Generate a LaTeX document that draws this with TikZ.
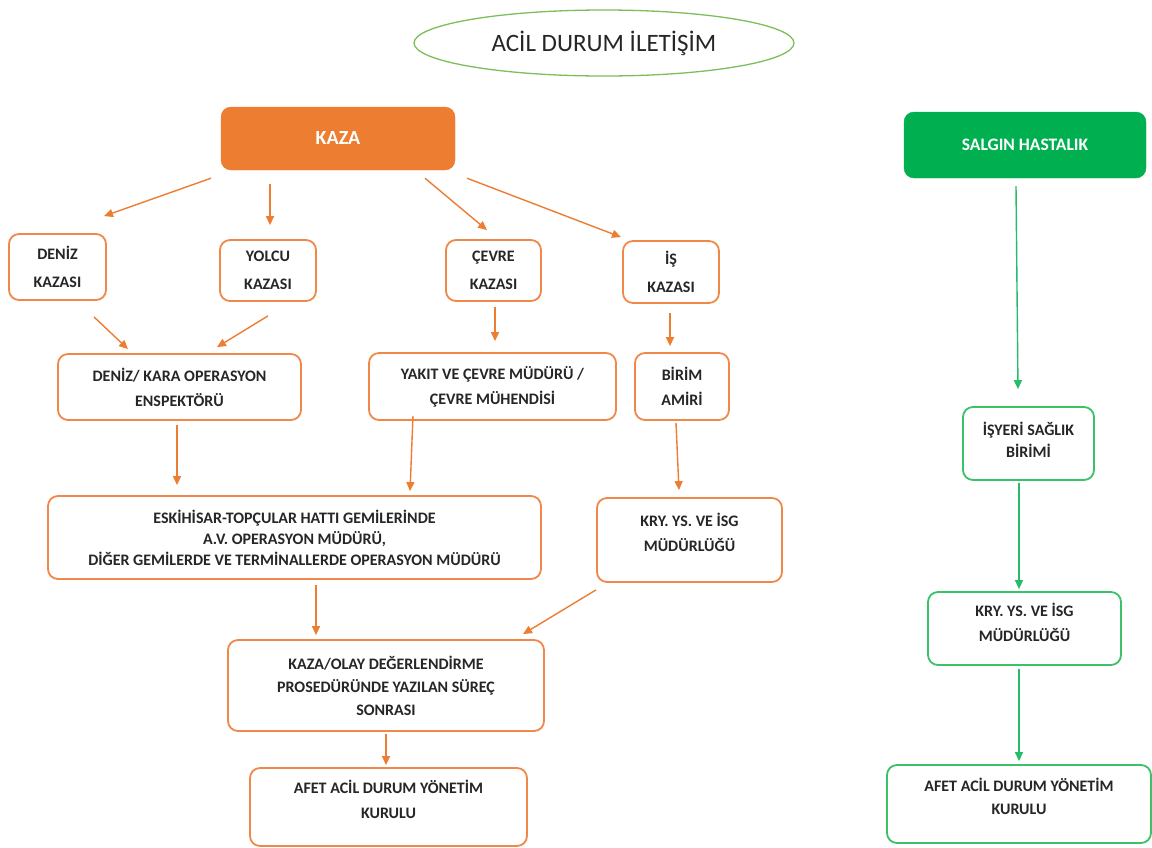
\documentclass[tikz,border=0pt]{standalone}
\usepackage{fontspec}
\setmainfont{Carlito}
\usetikzlibrary{arrows.meta,shapes.geometric}
\definecolor{korange}{HTML}{ED7D31}
\definecolor{kline}{HTML}{F0884A}
\definecolor{kgreen}{HTML}{00B050}
\definecolor{gline}{HTML}{3CC068}
\definecolor{eline}{HTML}{7DBE5A}
\tikzset{
  obox/.style={draw=kline, line width=1.8pt, rounded corners=10pt, fill=white, inner sep=0pt,
    align=center, text=black!85, font=\bfseries\fontsize{16}{25}\selectfont},
  gbox/.style={obox, draw=gline},
  tbox/.style={obox, font=\bfseries\fontsize{16}{28}\selectfont},
  oarr/.style={draw=korange, line width=1.4pt, -{Triangle[length=9pt,width=8pt]}},
  garr/.style={oarr, draw=kgreen!85!white},
}
\begin{document}
\begin{tikzpicture}[x=1pt,y=-1pt]
\path[fill=white,use as bounding box] (0,0) rectangle (1152,847);

% title
\node[draw=eline, line width=1.3pt, ellipse, minimum width=380pt, minimum height=66pt, inner sep=0pt,
  font=\fontsize{25}{28}\selectfont, text=black!85] (title) at (604,43) {ACİL DURUM İLETİŞİM};

% main headers
\node[draw=korange, fill=korange, rounded corners=10pt, minimum width=234pt, minimum height=63pt,
  inner sep=0pt, text=white, font=\bfseries\fontsize{20}{22}\selectfont] (kaza) at (338,138.5) {KAZA};
\node[draw=kgreen, fill=kgreen, rounded corners=10pt, minimum width=242pt, minimum height=66pt,
  inner sep=0pt, text=white, font=\bfseries\fontsize{17.5}{20}\selectfont] (salgin) at (1025,145) {SALGIN HASTALIK\\[6pt]};

% second level
\node[tbox, minimum width=97pt, minimum height=66pt] (deniz) at (57.5,267) {DENİZ\\KAZASI};
\node[tbox, minimum width=96pt, minimum height=61pt] (yolcu) at (268,270.5) {YOLCU\\KAZASI};
\node[tbox, minimum width=95pt, minimum height=61pt] (cevre) at (493.5,270.5) {ÇEVRE\\KAZASI};
\node[tbox, minimum width=96pt, minimum height=62pt] (is) at (671,272) {İŞ\\KAZASI};

% third level
\node[obox, minimum width=243pt, minimum height=66pt] (dk) at (179.5,387) {DENİZ/ KARA OPERASYON\\ENSPEKTÖRÜ};
\node[obox, minimum width=247pt, minimum height=67pt] (yakit) at (492.5,386.5) {YAKIT VE ÇEVRE MÜDÜRÜ /\\ÇEVRE MÜHENDİSİ};
\node[obox, minimum width=94pt, minimum height=67pt] (birim) at (682,386.5) {BİRİM\\AMİRİ};

% fourth level
\node[obox, minimum width=493pt, minimum height=83pt, font=\bfseries\fontsize{16}{21}\selectfont] (eski) at (294.5,537.5)
  {ESKİHİSAR-TOPÇULAR HATTI GEMİLERİNDE\\A.V. OPERASYON MÜDÜRÜ,\\DİĞER GEMİLERDE VE TERMİNALLERDE OPERASYON MÜDÜRÜ};
\node[obox, minimum width=185pt, minimum height=84pt] (kryo) at (689.5,540) {KRY. YS. VE İSG\\MÜDÜRLÜĞÜ\\[-10pt]};

% fifth level
\node[obox, minimum width=316pt, minimum height=91pt, font=\bfseries\fontsize{16}{23}\selectfont] (olay) at (386,685.5)
  {KAZA/OLAY DEĞERLENDİRME\\PROSEDÜRÜNDE YAZILAN SÜREÇ\\SONRASI};
\node[obox, minimum width=277pt, minimum height=78pt] (afeto) at (388.5,807) {AFET ACİL DURUM YÖNETİM\\KURULU\\[-10pt]};

% green branch
\node[gbox, minimum width=131pt, minimum height=73pt, font=\bfseries\fontsize{16}{22}\selectfont] (isyeri) at (1028.5,443.5) {İŞYERİ SAĞLIK\\BİRİMİ\\[-14pt]};
\node[gbox, minimum width=193pt, minimum height=73pt] (kryg) at (1024.5,628.5) {KRY. YS. VE İSG\\MÜDÜRLÜĞÜ\\[-12pt]};
\node[gbox, minimum width=264pt, minimum height=78pt, font=\bfseries\fontsize{16}{23}\selectfont] (afetg) at (1019,804) {AFET ACİL DURUM YÖNETİM\\KURULU\\[-8pt]};

% orange connectors
\draw[oarr] ([xshift=-127pt,yshift=-8pt]kaza.south) -- ([xshift=46.5pt,yshift=17pt]deniz.north);
\draw[oarr] ([xshift=-68pt,yshift=-14pt]kaza.south) -- ([xshift=2pt,yshift=14pt]yolcu.north);
\draw[oarr] ([xshift=87pt,yshift=-8pt]kaza.south) -- ([xshift=-6.5pt,yshift=9pt]cevre.north);
\draw[oarr] ([xshift=129pt,yshift=-8pt]kaza.south) -- ([xshift=-50pt,yshift=3pt]is.north);
\draw[oarr] ([xshift=36.5pt,yshift=-16pt]deniz.south) -- ([xshift=-51.5pt,yshift=4pt]dk.north);
\draw[oarr] ([xshift=0pt,yshift=-14pt]yolcu.south) -- ([xshift=37.5pt,yshift=6pt]dk.north);
\draw[oarr] ([xshift=1.5pt,yshift=-5pt]cevre.south) -- ([xshift=2.5pt,yshift=11pt]yakit.north);
\draw[oarr] ([xshift=-1pt,yshift=-9pt]is.south) -- ([xshift=-12pt,yshift=6pt]birim.north);
\draw[oarr] ([xshift=-2.5pt,yshift=-4pt]dk.south) -- ([xshift=-117.5pt,yshift=10pt]eski.north);
\draw[oarr] ([xshift=-79.5pt,yshift=5pt]yakit.south) -- ([xshift=115.5pt,yshift=4pt]eski.north);
\draw[oarr] ([xshift=-6pt,yshift=-2pt]birim.south) -- ([xshift=-10.5pt,yshift=7pt]kryo.north);
\draw[oarr] ([xshift=21.5pt,yshift=-5pt]eski.south) -- ([xshift=-70pt,yshift=4pt]olay.north);
\draw[oarr] ([xshift=-93.5pt,yshift=-7pt]kryo.south) -- ([xshift=137pt,yshift=5pt]olay.north);
\draw[oarr] ([yshift=-2pt]olay.south) -- ([xshift=-2.5pt,yshift=2pt]afeto.north);

% green connectors
\draw[garr] ([xshift=-9pt,yshift=-8pt]salgin.south) -- ([xshift=-10.5pt,yshift=17pt]isyeri.north);
\draw[garr] ([xshift=-9.5pt,yshift=-2pt]isyeri.south) -- ([xshift=-5.5pt,yshift=2pt]kryg.north);
\draw[garr] ([xshift=-5.5pt,yshift=-3pt]kryg.south) -- ([xshift=0pt,yshift=3pt]afetg.north);
\end{tikzpicture}
\end{document}
